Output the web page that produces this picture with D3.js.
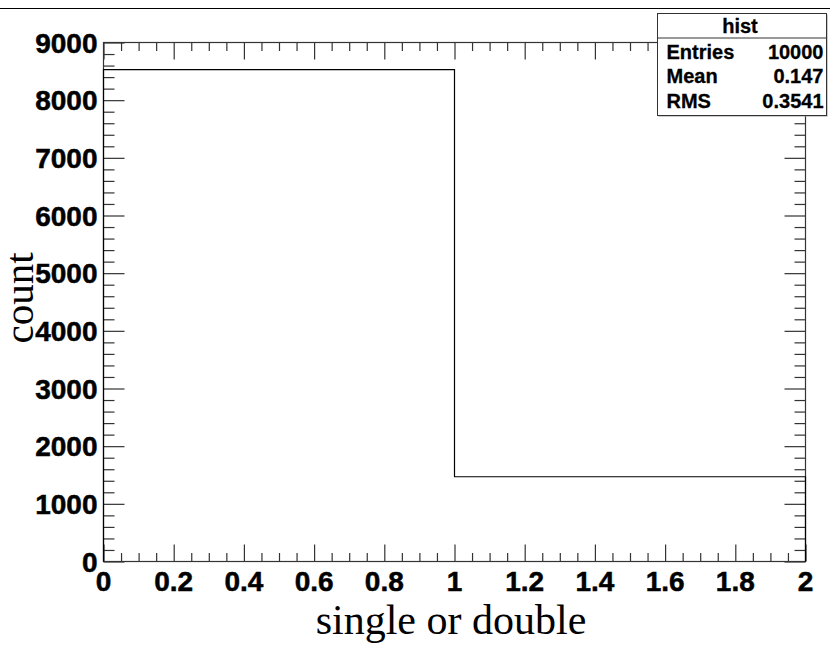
<!DOCTYPE html>
<html>
<head>
<meta charset="utf-8">
<script src="https://cdn.jsdelivr.net/npm/d3@7"></script>
<style>
  html, body { margin: 0; padding: 0; background: #fff; }
  svg { display: block; }
</style>
</head>
<body>
<svg id="chart" width="830" height="646"></svg>
<script>
// Histogram "hist": bin edges and bin contents
const binEdges = [0, 1, 2];
const binCounts = [8530, 1470];

// Axis ticks
const xMajorTicks = [0, 0.2, 0.4, 0.6, 0.8, 1, 1.2, 1.4, 1.6, 1.8, 2];
const xTickLabels = ["0", "0.2", "0.4", "0.6", "0.8", "1", "1.2", "1.4", "1.6", "1.8", "2"];
const yMajorTicks = [0, 1000, 2000, 3000, 4000, 5000, 6000, 7000, 8000, 9000];
const yTickLabels = ["0", "1000", "2000", "3000", "4000", "5000", "6000", "7000", "8000", "9000"];

// Statistics box
const statsTitle = "hist";
const statsNames = ["Entries", "Mean", "RMS"];
const statsValues = ["10000", "0.147", "0.3541"];

const xTitle = "single or double";
const yTitle = "count";

const svg = d3.select("#chart");
const W = 830, H = 646;
const frame = { left: 103.5, right: 805.5, top: 42.5, bottom: 561.5 };

const x = d3.scaleLinear().domain([binEdges[0], binEdges[binEdges.length - 1]])
  .range([frame.left, frame.right]);
const y = d3.scaleLinear().domain([0, 9000]).range([frame.bottom, frame.top]);

const axisColor = "#333";
const labelFont = "'Liberation Sans', Arial, Helvetica, sans-serif";
const titleFont = "'Liberation Serif', 'Times New Roman', Times, serif";

// Canvas top border line
svg.append("line")
  .attr("x1", 0).attr("x2", W).attr("y1", 8.5).attr("y2", 8.5)
  .attr("stroke", "#000").attr("stroke-width", 1);

// Minor tick positions (5 per 0.2 on x, 5 per 1000 on y)
const xMinor = d3.range(0, 41).map(i => i * 0.05).filter(v => !xMajorTicks.some(m => Math.abs(m - v) < 1e-9));
const yMinor = d3.range(0, 46).map(i => i * 200).filter(v => v % 1000 !== 0);

function ticks(g, axisFn, scale, major, minor, majLen, minLen) {
  g.call(axisFn(scale).tickValues(major).tickSize(majLen).tickFormat(""));
  g.call(gg => gg.select(".domain").remove());
  const gm = g.append("g");
  gm.call(axisFn(scale).tickValues(minor).tickSize(minLen).tickFormat(""));
  gm.select(".domain").remove();
  g.selectAll("line").attr("stroke", axisColor).attr("stroke-width", 1.2);
}

// Bottom and top axes (ticks point inward)
ticks(svg.append("g").attr("transform", `translate(0,${frame.bottom})`),
  d3.axisTop, x, xMajorTicks, xMinor, 17, 8.5);
ticks(svg.append("g").attr("transform", `translate(0,${frame.top})`),
  d3.axisBottom, x, xMajorTicks, xMinor, 17, 8.5);
// Left and right axes (ticks point inward)
ticks(svg.append("g").attr("transform", `translate(${frame.left},0)`),
  d3.axisRight, y, yMajorTicks, yMinor, 21, 11);
ticks(svg.append("g").attr("transform", `translate(${frame.right},0)`),
  d3.axisLeft, y, yMajorTicks, yMinor, 21, 11);

// Frame
svg.append("rect")
  .attr("x", frame.left).attr("y", frame.top)
  .attr("width", frame.right - frame.left).attr("height", frame.bottom - frame.top)
  .attr("fill", "none").attr("stroke", axisColor).attr("stroke-width", 1.2);

// Histogram outline as a step line
const pts = [[binEdges[0], 0]];
binCounts.forEach((c, i) => { pts.push([binEdges[i], c]); pts.push([binEdges[i + 1], c]); });
pts.push([binEdges[binEdges.length - 1], 0]);
svg.append("path")
  .attr("d", d3.line().x(d => x(d[0])).y(d => y(d[1]))(pts))
  .attr("fill", "none").attr("stroke", "#000").attr("stroke-width", 1.2);

// Heavy bold labels
function heavy(sel, size) {
  return sel.attr("font-family", labelFont).attr("font-weight", "bold").attr("font-size", size)
    .attr("fill", "#000").attr("stroke", "#000").attr("stroke-width", 0.5);
}

// X tick labels
heavy(svg.append("g").selectAll("text").data(xMajorTicks).join("text")
  .attr("x", d => x(d)).attr("y", frame.bottom + 29)
  .attr("text-anchor", "middle"), 28)
  .text((d, i) => xTickLabels[i]);

// Y tick labels
heavy(svg.append("g").selectAll("text").data(yMajorTicks).join("text")
  .attr("x", frame.left - 6).attr("y", d => y(d) + 10)
  .attr("text-anchor", "end"), 28)
  .text((d, i) => yTickLabels[i]);

// Axis titles
svg.append("text")
  .attr("x", 451).attr("y", 634)
  .attr("text-anchor", "middle")
  .attr("font-family", titleFont).attr("font-size", 42)
  .text(xTitle);
svg.append("text")
  .attr("transform", `translate(33,298) rotate(-90)`)
  .attr("text-anchor", "middle")
  .attr("font-family", titleFont).attr("font-size", 41)
  .text(yTitle);

// Statistics box
const box = { x: 657.5, y: 13.5, w: 169, h: 102, head: 24.5 };
svg.append("rect")
  .attr("x", box.x + 1).attr("y", box.y + 1).attr("width", box.w).attr("height", box.h)
  .attr("fill", "#999");
svg.append("rect")
  .attr("x", box.x).attr("y", box.y).attr("width", box.w).attr("height", box.h)
  .attr("fill", "#fff").attr("stroke", "#333").attr("stroke-width", 1);
svg.append("line")
  .attr("x1", box.x).attr("x2", box.x + box.w)
  .attr("y1", box.y + box.head).attr("y2", box.y + box.head)
  .attr("stroke", "#333").attr("stroke-width", 1);
heavy(svg.append("text")
  .attr("x", box.x + box.w / 2 - 2).attr("y", box.y + 19)
  .attr("text-anchor", "middle"), 20)
  .attr("stroke-width", 0.3)
  .text(statsTitle);
const rowY = d3.scalePoint().domain(statsNames).range([box.y + 45, box.y + 94]);
heavy(svg.append("g").selectAll("text").data(statsNames).join("text")
  .attr("x", box.x + 9).attr("y", d => rowY(d)), 20)
  .attr("stroke-width", 0.3)
  .text(d => d);
heavy(svg.append("g").selectAll("text").data(statsValues).join("text")
  .attr("x", box.x + box.w - 3).attr("y", (d, i) => rowY(statsNames[i]))
  .attr("text-anchor", "end"), 20)
  .attr("stroke-width", 0.3)
  .text(d => d);
</script>
</body>
</html>
